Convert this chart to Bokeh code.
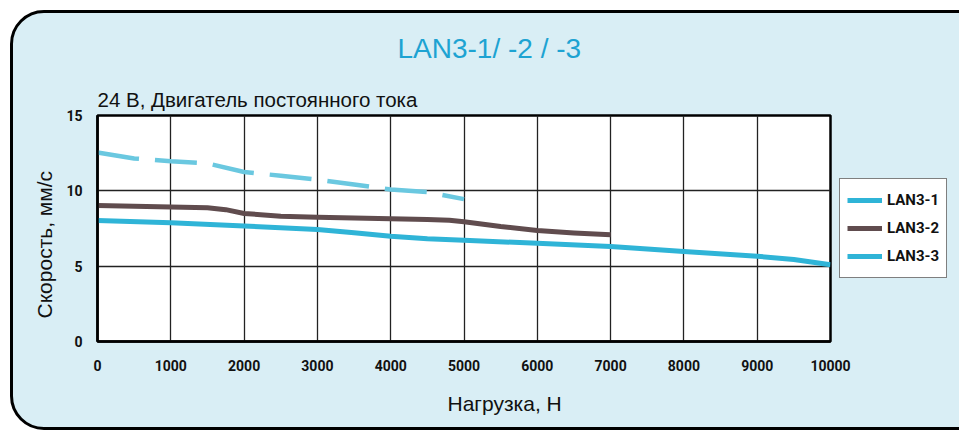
from bokeh.plotting import figure
from bokeh.models import Legend, LegendItem, FixedTicker, Title
from bokeh.embed import file_html
from bokeh.resources import INLINE

# ---- data ----
x_ticks = [0, 1000, 2000, 3000, 4000, 5000, 6000, 7000, 8000, 9000, 10000]
y_ticks = [0, 5, 10, 15]

load_1 = [0, 500, 1000, 1500, 2000, 2500, 3000, 3500, 4000, 4500, 5000]
speed_1 = [12.55, 12.15, 11.97, 11.82, 11.25, 11.0, 10.74, 10.42, 10.09, 9.92, 9.45]

load_2 = [0, 1000, 1500, 1750, 2000, 2500, 3000, 3500, 4000, 4500, 4800, 5000, 5500, 6000, 6500, 7000]
speed_2 = [9.02, 8.93, 8.88, 8.75, 8.5, 8.32, 8.25, 8.2, 8.14, 8.1, 8.05, 7.95, 7.63, 7.37, 7.2, 7.08]

load_3 = [0, 1000, 2000, 3000, 3500, 4000, 4500, 5000, 6000, 7000, 8000, 9000, 9500, 10000]
speed_3 = [8.03, 7.88, 7.67, 7.43, 7.22, 6.98, 6.82, 6.72, 6.52, 6.3, 5.97, 5.66, 5.44, 5.09]

series_names = ["LAN3-1", "LAN3-2", "LAN3-3"]
title_text = "LAN3-1/ -2 / -3"
subtitle_text = "24 В, Двигатель постоянного тока"
x_label = "Нагрузка, Н"
y_label = "Скорость, мм/с"

BG = "#D9EEF5"
TITLE_C = "#1DA3D2"
C_DASH = "#6AC8E0"
C_BLUE = "#2FB4D7"
C_BROWN = "#604C4E"
TXT = "#111111"

p = figure(width=941, height=420, frame_width=733,
           x_range=(0, 10000), y_range=(0, 15),
           output_backend="svg", toolbar_location=None, title=None,
           min_border_left=84, min_border_right=110, min_border_top=102, min_border_bottom=92)
p.border_fill_color = None
p.background_fill_color = "white"
p.outline_line_color = "black"
p.outline_line_width = 2.5
p.styles = {"background-color": BG, "border": "3px solid #000", "border-radius": "34px",
            "overflow": "hidden", "margin-left": "10px", "margin-top": "10px"}

# grid
p.xgrid.ticker = FixedTicker(ticks=x_ticks)
p.ygrid.ticker = FixedTicker(ticks=y_ticks)
for g in (p.xgrid, p.ygrid):
    g.grid_line_color = "#222222"
    g.grid_line_width = 1.3
    g.grid_line_alpha = 1

# axes
p.xaxis.ticker = FixedTicker(ticks=x_ticks)
p.yaxis.ticker = FixedTicker(ticks=y_ticks)
for ax in (p.xaxis, p.yaxis):
    ax.axis_line_color = "black"
    ax.axis_line_width = 2.5
    ax.major_tick_line_color = None
    ax.minor_tick_line_color = None
    ax.major_label_text_font = "Roboto"
    ax.major_label_text_font_style = "bold"
    ax.major_label_text_font_size = "14px"
    ax.major_label_text_color = TXT
p.xaxis.major_label_standoff = 12
p.yaxis.major_label_standoff = 9

# lines
r1 = p.line(load_1, speed_1, line_color=C_DASH, line_width=4.5, line_dash="42 16")
r2 = p.line(load_2, speed_2, line_color=C_BROWN, line_width=5, line_join="round")
r3 = p.line(load_3, speed_3, line_color=C_BLUE, line_width=5, line_join="round")

# legend (the reference shows a solid blue key for LAN3-1 as well)
legend = Legend(items=[LegendItem(label=series_names[0], renderers=[r3]),
                       LegendItem(label=series_names[1], renderers=[r2]),
                       LegendItem(label=series_names[2], renderers=[r3])],
                location="center_left", margin=9, padding=7, spacing=0,
                glyph_width=35, glyph_height=28, label_height=28, label_standoff=5,
                label_text_font="Roboto", label_text_font_style="bold",
                label_text_font_size="15px", label_text_color=TXT,
                border_line_color="black", border_line_width=1.5,
                background_fill_color="white", background_fill_alpha=1)
p.add_layout(legend, "right")

# texts: subtitle (inner) then main title (outer)
p.add_layout(Title(text=subtitle_text, align="left", offset=0, standoff=9,
                   text_font="Liberation Sans", text_font_size="20.5px",
                   text_font_style="normal", text_color=TXT), "above")
p.add_layout(Title(text=title_text, align="left", offset=300, standoff=35,
                   text_font="Liberation Sans", text_font_size="28px",
                   text_font_style="normal", text_color=TITLE_C), "above")
p.add_layout(Title(text=x_label, align="left", offset=350, standoff=33,
                   text_font="Liberation Sans", text_font_size="21px",
                   text_font_style="normal", text_color=TXT), "below")
p.add_layout(Title(text=y_label, align="left", offset=23, standoff=15,
                   text_font="Liberation Sans", text_font_size="21px",
                   text_font_style="normal", text_color=TXT), "left")

open("out.html", "w").write(file_html(p, INLINE))
